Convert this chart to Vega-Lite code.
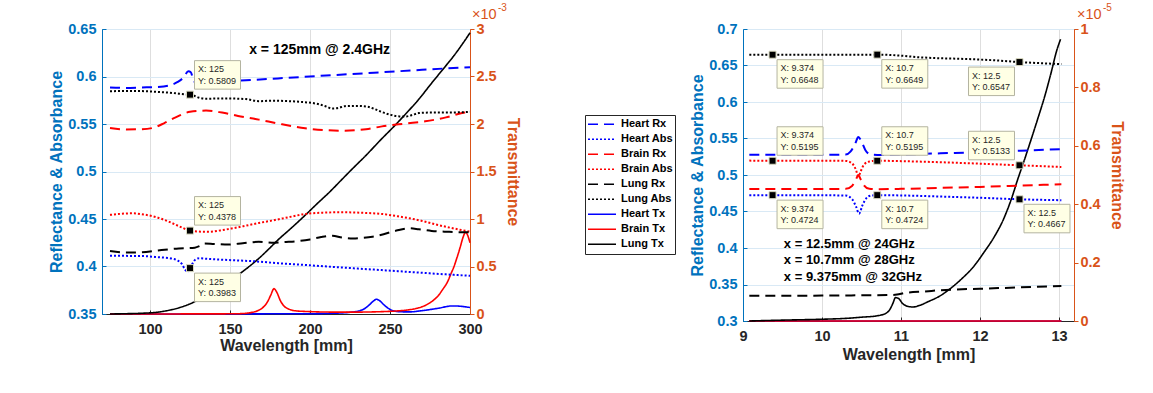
{
"$schema":"https://vega.github.io/schema/vega-lite/v6.json",
"autosize":{"type":"pad"},
"padding":{"left":48,"top":2,"right":2,"bottom":2},
"background":"white",
"datasets":{
"LR":[
{"s":"Heart Rx","x":75,"r":0.5885},{"s":"Heart Rx","x":85,"r":0.588},{"s":"Heart Rx","x":95,"r":0.5885},{"s":"Heart Rx","x":105,"r":0.589},{"s":"Heart Rx","x":112,"r":0.5905},{"s":"Heart Rx","x":117,"r":0.594},{"s":"Heart Rx","x":121,"r":0.599},{"s":"Heart Rx","x":124,"r":0.6055},{"s":"Heart Rx","x":125.5,"r":0.6045},{"s":"Heart Rx","x":127,"r":0.597},{"s":"Heart Rx","x":129,"r":0.5925},{"s":"Heart Rx","x":132,"r":0.5925},{"s":"Heart Rx","x":140,"r":0.5935},{"s":"Heart Rx","x":150,"r":0.595},{"s":"Heart Rx","x":165,"r":0.5965},{"s":"Heart Rx","x":180,"r":0.598},{"s":"Heart Rx","x":195,"r":0.5995},{"s":"Heart Rx","x":210,"r":0.601},{"s":"Heart Rx","x":225,"r":0.6025},{"s":"Heart Rx","x":240,"r":0.604},{"s":"Heart Rx","x":255,"r":0.6055},{"s":"Heart Rx","x":270,"r":0.607},{"s":"Heart Rx","x":285,"r":0.6085},{"s":"Heart Rx","x":300,"r":0.6098},
{"s":"Heart Abs","x":75,"r":0.4113},{"s":"Heart Abs","x":85,"r":0.4112},{"s":"Heart Abs","x":95,"r":0.411},{"s":"Heart Abs","x":105,"r":0.4098},{"s":"Heart Abs","x":113,"r":0.4085},{"s":"Heart Abs","x":117,"r":0.4065},{"s":"Heart Abs","x":120,"r":0.4025},{"s":"Heart Abs","x":122,"r":0.3965},{"s":"Heart Abs","x":123.5,"r":0.3945},{"s":"Heart Abs","x":125,"r":0.3983},{"s":"Heart Abs","x":126.5,"r":0.403},{"s":"Heart Abs","x":128.5,"r":0.4075},{"s":"Heart Abs","x":131,"r":0.4088},{"s":"Heart Abs","x":135,"r":0.4082},{"s":"Heart Abs","x":149,"r":0.4068},{"s":"Heart Abs","x":165,"r":0.4055},{"s":"Heart Abs","x":180,"r":0.4035},{"s":"Heart Abs","x":197,"r":0.4016},{"s":"Heart Abs","x":215,"r":0.3995},{"s":"Heart Abs","x":230,"r":0.3978},{"s":"Heart Abs","x":245,"r":0.3962},{"s":"Heart Abs","x":260,"r":0.3945},{"s":"Heart Abs","x":275,"r":0.3928},{"s":"Heart Abs","x":290,"r":0.3912},{"s":"Heart Abs","x":300,"r":0.3902},
{"s":"Brain Rx","x":75,"r":0.5457},{"s":"Brain Rx","x":85,"r":0.5443},{"s":"Brain Rx","x":95,"r":0.5445},{"s":"Brain Rx","x":102,"r":0.546},{"s":"Brain Rx","x":109,"r":0.551},{"s":"Brain Rx","x":116,"r":0.557},{"s":"Brain Rx","x":125,"r":0.5628},{"s":"Brain Rx","x":135,"r":0.5641},{"s":"Brain Rx","x":145,"r":0.562},{"s":"Brain Rx","x":155,"r":0.5585},{"s":"Brain Rx","x":168,"r":0.5546},{"s":"Brain Rx","x":180,"r":0.5505},{"s":"Brain Rx","x":197,"r":0.5455},{"s":"Brain Rx","x":210,"r":0.5435},{"s":"Brain Rx","x":220,"r":0.543},{"s":"Brain Rx","x":235,"r":0.5445},{"s":"Brain Rx","x":245,"r":0.5475},{"s":"Brain Rx","x":260,"r":0.5505},{"s":"Brain Rx","x":272,"r":0.5528},{"s":"Brain Rx","x":285,"r":0.557},{"s":"Brain Rx","x":295,"r":0.5615},{"s":"Brain Rx","x":300,"r":0.563},
{"s":"Brain Abs","x":75,"r":0.4543},{"s":"Brain Abs","x":82,"r":0.4555},{"s":"Brain Abs","x":89,"r":0.456},{"s":"Brain Abs","x":96,"r":0.4548},{"s":"Brain Abs","x":105,"r":0.4514},{"s":"Brain Abs","x":112,"r":0.447},{"s":"Brain Abs","x":118,"r":0.4425},{"s":"Brain Abs","x":125,"r":0.4378},{"s":"Brain Abs","x":130,"r":0.4368},{"s":"Brain Abs","x":137,"r":0.4366},{"s":"Brain Abs","x":144,"r":0.438},{"s":"Brain Abs","x":151,"r":0.44},{"s":"Brain Abs","x":160,"r":0.443},{"s":"Brain Abs","x":168,"r":0.4458},{"s":"Brain Abs","x":176,"r":0.4483},{"s":"Brain Abs","x":187,"r":0.452},{"s":"Brain Abs","x":197,"r":0.4553},{"s":"Brain Abs","x":208,"r":0.4567},{"s":"Brain Abs","x":220,"r":0.4571},{"s":"Brain Abs","x":232,"r":0.4566},{"s":"Brain Abs","x":245,"r":0.4553},{"s":"Brain Abs","x":255,"r":0.4528},{"s":"Brain Abs","x":262,"r":0.4508},{"s":"Brain Abs","x":270,"r":0.448},{"s":"Brain Abs","x":280,"r":0.4437},{"s":"Brain Abs","x":290,"r":0.44},{"s":"Brain Abs","x":300,"r":0.4366},
{"s":"Lung Rx","x":75,"r":0.4162},{"s":"Lung Rx","x":85,"r":0.4147},{"s":"Lung Rx","x":95,"r":0.415},{"s":"Lung Rx","x":105,"r":0.4169},{"s":"Lung Rx","x":118,"r":0.419},{"s":"Lung Rx","x":128,"r":0.4198},{"s":"Lung Rx","x":131,"r":0.4215},{"s":"Lung Rx","x":134,"r":0.4243},{"s":"Lung Rx","x":140,"r":0.4238},{"s":"Lung Rx","x":149,"r":0.4232},{"s":"Lung Rx","x":158,"r":0.4245},{"s":"Lung Rx","x":168,"r":0.426},{"s":"Lung Rx","x":176,"r":0.425},{"s":"Lung Rx","x":185,"r":0.4258},{"s":"Lung Rx","x":193,"r":0.4268},{"s":"Lung Rx","x":200,"r":0.4285},{"s":"Lung Rx","x":207,"r":0.431},{"s":"Lung Rx","x":214,"r":0.4324},{"s":"Lung Rx","x":220,"r":0.4305},{"s":"Lung Rx","x":227,"r":0.4296},{"s":"Lung Rx","x":233,"r":0.4302},{"s":"Lung Rx","x":239,"r":0.4314},{"s":"Lung Rx","x":246,"r":0.434},{"s":"Lung Rx","x":254,"r":0.4378},{"s":"Lung Rx","x":262,"r":0.4402},{"s":"Lung Rx","x":268,"r":0.4392},{"s":"Lung Rx","x":276,"r":0.4374},{"s":"Lung Rx","x":287,"r":0.4365},{"s":"Lung Rx","x":297,"r":0.436},{"s":"Lung Rx","x":300,"r":0.436},
{"s":"Lung Abs","x":75,"r":0.5845},{"s":"Lung Abs","x":90,"r":0.5848},{"s":"Lung Abs","x":105,"r":0.5838},{"s":"Lung Abs","x":115,"r":0.5825},{"s":"Lung Abs","x":122,"r":0.5812},{"s":"Lung Abs","x":125,"r":0.5809},{"s":"Lung Abs","x":128,"r":0.5795},{"s":"Lung Abs","x":131,"r":0.5775},{"s":"Lung Abs","x":135,"r":0.5766},{"s":"Lung Abs","x":142,"r":0.5768},{"s":"Lung Abs","x":150,"r":0.5768},{"s":"Lung Abs","x":160,"r":0.5762},{"s":"Lung Abs","x":168,"r":0.574},{"s":"Lung Abs","x":176,"r":0.5745},{"s":"Lung Abs","x":185,"r":0.5742},{"s":"Lung Abs","x":195,"r":0.5732},{"s":"Lung Abs","x":205,"r":0.571},{"s":"Lung Abs","x":210,"r":0.5685},{"s":"Lung Abs","x":214,"r":0.5662},{"s":"Lung Abs","x":218,"r":0.567},{"s":"Lung Abs","x":222,"r":0.5688},{"s":"Lung Abs","x":230,"r":0.569},{"s":"Lung Abs","x":236,"r":0.5682},{"s":"Lung Abs","x":240,"r":0.566},{"s":"Lung Abs","x":244,"r":0.5632},{"s":"Lung Abs","x":250,"r":0.5598},{"s":"Lung Abs","x":256,"r":0.558},{"s":"Lung Abs","x":260,"r":0.558},{"s":"Lung Abs","x":264,"r":0.5595},{"s":"Lung Abs","x":268,"r":0.5615},{"s":"Lung Abs","x":275,"r":0.562},{"s":"Lung Abs","x":285,"r":0.562},{"s":"Lung Abs","x":300,"r":0.5628}
],
"LT":[
{"s":"Heart Tx","x":75,"t":0},{"s":"Heart Tx","x":200,"t":3e-6},{"s":"Heart Tx","x":215,"t":8e-6},{"s":"Heart Tx","x":225,"t":1.8e-5},{"s":"Heart Tx","x":230,"t":3e-5},{"s":"Heart Tx","x":234,"t":5.5e-5},{"s":"Heart Tx","x":237,"t":9.5e-5},{"s":"Heart Tx","x":239.5,"t":1.35e-4},{"s":"Heart Tx","x":241.5,"t":1.55e-4},{"s":"Heart Tx","x":243.5,"t":1.4e-4},{"s":"Heart Tx","x":246,"t":1e-4},{"s":"Heart Tx","x":248.5,"t":6.5e-5},{"s":"Heart Tx","x":251,"t":4e-5},{"s":"Heart Tx","x":255,"t":2.5e-5},{"s":"Heart Tx","x":262,"t":2.2e-5},{"s":"Heart Tx","x":270,"t":3.5e-5},{"s":"Heart Tx","x":280,"t":6e-5},{"s":"Heart Tx","x":289,"t":8.5e-5},{"s":"Heart Tx","x":295,"t":8e-5},{"s":"Heart Tx","x":300,"t":6.8e-5},
{"s":"Brain Tx","x":75,"t":0},{"s":"Brain Tx","x":150,"t":2e-6},{"s":"Brain Tx","x":155,"t":3e-6},{"s":"Brain Tx","x":160,"t":8e-6},{"s":"Brain Tx","x":164,"t":1.8e-5},{"s":"Brain Tx","x":168,"t":4e-5},{"s":"Brain Tx","x":171,"t":7.5e-5},{"s":"Brain Tx","x":173.5,"t":1.3e-4},{"s":"Brain Tx","x":175.5,"t":2e-4},{"s":"Brain Tx","x":177.5,"t":2.67e-4},{"s":"Brain Tx","x":179.5,"t":2.2e-4},{"s":"Brain Tx","x":181.5,"t":1.4e-4},{"s":"Brain Tx","x":184,"t":8e-5},{"s":"Brain Tx","x":187,"t":5e-5},{"s":"Brain Tx","x":190,"t":3.5e-5},{"s":"Brain Tx","x":200,"t":2.5e-5},{"s":"Brain Tx","x":215,"t":2e-5},{"s":"Brain Tx","x":230,"t":2e-5},{"s":"Brain Tx","x":245,"t":2.5e-5},{"s":"Brain Tx","x":255,"t":3.3e-5},{"s":"Brain Tx","x":262,"t":4.5e-5},{"s":"Brain Tx","x":268,"t":6.5e-5},{"s":"Brain Tx","x":272,"t":9e-5},{"s":"Brain Tx","x":276,"t":1.3e-4},{"s":"Brain Tx","x":280,"t":1.9e-4},{"s":"Brain Tx","x":283,"t":2.6e-4},{"s":"Brain Tx","x":286,"t":3.4e-4},{"s":"Brain Tx","x":288,"t":4.2e-4},{"s":"Brain Tx","x":290,"t":5e-4},{"s":"Brain Tx","x":292,"t":6e-4},{"s":"Brain Tx","x":294,"t":7.1e-4},{"s":"Brain Tx","x":295.5,"t":8e-4},{"s":"Brain Tx","x":297.3,"t":8.6e-4},{"s":"Brain Tx","x":298.5,"t":8.3e-4},{"s":"Brain Tx","x":300,"t":7.5e-4},
{"s":"Lung Tx","x":75,"t":0},{"s":"Lung Tx","x":85,"t":3e-6},{"s":"Lung Tx","x":95,"t":8e-6},{"s":"Lung Tx","x":105,"t":2e-5},{"s":"Lung Tx","x":112,"t":4e-5},{"s":"Lung Tx","x":118,"t":6.5e-5},{"s":"Lung Tx","x":124,"t":1e-4},{"s":"Lung Tx","x":128,"t":1.3e-4},{"s":"Lung Tx","x":131,"t":1.6e-4},{"s":"Lung Tx","x":137,"t":2.1e-4},{"s":"Lung Tx","x":143,"t":2.7e-4},{"s":"Lung Tx","x":149,"t":3.35e-4},{"s":"Lung Tx","x":155,"t":4.1e-4},{"s":"Lung Tx","x":162,"t":5e-4},{"s":"Lung Tx","x":168,"t":5.85e-4},{"s":"Lung Tx","x":174,"t":6.8e-4},{"s":"Lung Tx","x":180,"t":7.8e-4},{"s":"Lung Tx","x":188,"t":9e-4},{"s":"Lung Tx","x":197,"t":1.04e-3},{"s":"Lung Tx","x":205,"t":1.17e-3},{"s":"Lung Tx","x":212,"t":1.28e-3},{"s":"Lung Tx","x":219,"t":1.4e-3},{"s":"Lung Tx","x":226,"t":1.52e-3},{"s":"Lung Tx","x":235,"t":1.67e-3},{"s":"Lung Tx","x":244,"t":1.83e-3},{"s":"Lung Tx","x":252.5,"t":1.975e-3},{"s":"Lung Tx","x":260,"t":2.11e-3},{"s":"Lung Tx","x":268,"t":2.26e-3},{"s":"Lung Tx","x":276,"t":2.43e-3},{"s":"Lung Tx","x":283,"t":2.574e-3},{"s":"Lung Tx","x":290,"t":2.72e-3},{"s":"Lung Tx","x":296,"t":2.86e-3},{"s":"Lung Tx","x":300,"t":2.96e-3}
],
"RR":[
{"s":"Heart Rx","x":9.08,"r":0.5277},{"s":"Heart Rx","x":9.5,"r":0.5277},{"s":"Heart Rx","x":10,"r":0.5277},{"s":"Heart Rx","x":10.3,"r":0.528},{"s":"Heart Rx","x":10.36,"r":0.532},{"s":"Heart Rx","x":10.42,"r":0.543},{"s":"Heart Rx","x":10.46,"r":0.552},{"s":"Heart Rx","x":10.5,"r":0.546},{"s":"Heart Rx","x":10.55,"r":0.534},{"s":"Heart Rx","x":10.62,"r":0.528},{"s":"Heart Rx","x":10.7,"r":0.5275},{"s":"Heart Rx","x":11,"r":0.528},{"s":"Heart Rx","x":11.5,"r":0.5297},{"s":"Heart Rx","x":12,"r":0.5313},{"s":"Heart Rx","x":12.5,"r":0.5333},{"s":"Heart Rx","x":13.03,"r":0.5355},
{"s":"Heart Abs","x":9.08,"r":0.4724},{"s":"Heart Abs","x":9.374,"r":0.4724},{"s":"Heart Abs","x":10,"r":0.4723},{"s":"Heart Abs","x":10.3,"r":0.4718},{"s":"Heart Abs","x":10.38,"r":0.467},{"s":"Heart Abs","x":10.43,"r":0.457},{"s":"Heart Abs","x":10.47,"r":0.447},{"s":"Heart Abs","x":10.51,"r":0.458},{"s":"Heart Abs","x":10.56,"r":0.468},{"s":"Heart Abs","x":10.62,"r":0.4718},{"s":"Heart Abs","x":10.7,"r":0.4724},{"s":"Heart Abs","x":11,"r":0.472},{"s":"Heart Abs","x":11.5,"r":0.4705},{"s":"Heart Abs","x":12,"r":0.4688},{"s":"Heart Abs","x":12.5,"r":0.4667},{"s":"Heart Abs","x":13.03,"r":0.4655},
{"s":"Brain Rx","x":9.08,"r":0.4807},{"s":"Brain Rx","x":10,"r":0.4807},{"s":"Brain Rx","x":10.3,"r":0.481},{"s":"Brain Rx","x":10.38,"r":0.485},{"s":"Brain Rx","x":10.43,"r":0.494},{"s":"Brain Rx","x":10.46,"r":0.5},{"s":"Brain Rx","x":10.49,"r":0.494},{"s":"Brain Rx","x":10.53,"r":0.486},{"s":"Brain Rx","x":10.6,"r":0.481},{"s":"Brain Rx","x":10.7,"r":0.4805},{"s":"Brain Rx","x":11,"r":0.481},{"s":"Brain Rx","x":11.5,"r":0.4823},{"s":"Brain Rx","x":12,"r":0.4837},{"s":"Brain Rx","x":12.5,"r":0.4855},{"s":"Brain Rx","x":13.03,"r":0.4873},
{"s":"Brain Abs","x":9.08,"r":0.5197},{"s":"Brain Abs","x":9.374,"r":0.5195},{"s":"Brain Abs","x":10,"r":0.5196},{"s":"Brain Abs","x":10.3,"r":0.5193},{"s":"Brain Abs","x":10.38,"r":0.516},{"s":"Brain Abs","x":10.43,"r":0.507},{"s":"Brain Abs","x":10.46,"r":0.498},{"s":"Brain Abs","x":10.49,"r":0.505},{"s":"Brain Abs","x":10.53,"r":0.514},{"s":"Brain Abs","x":10.6,"r":0.5185},{"s":"Brain Abs","x":10.7,"r":0.5195},{"s":"Brain Abs","x":11,"r":0.519},{"s":"Brain Abs","x":11.5,"r":0.5175},{"s":"Brain Abs","x":12,"r":0.5155},{"s":"Brain Abs","x":12.5,"r":0.5133},{"s":"Brain Abs","x":13.03,"r":0.511},
{"s":"Lung Rx","x":9.08,"r":0.3346},{"s":"Lung Rx","x":10,"r":0.3348},{"s":"Lung Rx","x":10.5,"r":0.3352},{"s":"Lung Rx","x":10.85,"r":0.3355},{"s":"Lung Rx","x":10.95,"r":0.3362},{"s":"Lung Rx","x":11.05,"r":0.3385},{"s":"Lung Rx","x":11.1,"r":0.339},{"s":"Lung Rx","x":11.3,"r":0.3405},{"s":"Lung Rx","x":11.5,"r":0.3422},{"s":"Lung Rx","x":12,"r":0.3442},{"s":"Lung Rx","x":12.5,"r":0.346},{"s":"Lung Rx","x":13.03,"r":0.3478},
{"s":"Lung Abs","x":9.08,"r":0.6648},{"s":"Lung Abs","x":9.374,"r":0.6648},{"s":"Lung Abs","x":10,"r":0.6648},{"s":"Lung Abs","x":10.4,"r":0.6648},{"s":"Lung Abs","x":10.7,"r":0.6649},{"s":"Lung Abs","x":10.85,"r":0.6645},{"s":"Lung Abs","x":11,"r":0.6635},{"s":"Lung Abs","x":11.2,"r":0.6615},{"s":"Lung Abs","x":11.4,"r":0.6603},{"s":"Lung Abs","x":11.8,"r":0.659},{"s":"Lung Abs","x":12.2,"r":0.657},{"s":"Lung Abs","x":12.5,"r":0.6547},{"s":"Lung Abs","x":12.8,"r":0.653},{"s":"Lung Abs","x":13.03,"r":0.652}
],
"RT":[
{"s":"Heart Tx","x":9.08,"t":0},{"s":"Heart Tx","x":13.03,"t":0},
{"s":"Brain Tx","x":9.08,"t":0},{"s":"Brain Tx","x":13.03,"t":0},
{"s":"Lung Tx","x":9.08,"t":0},{"s":"Lung Tx","x":9.5,"t":3e-8},{"s":"Lung Tx","x":10,"t":6e-8},{"s":"Lung Tx","x":10.3,"t":9e-8},{"s":"Lung Tx","x":10.5,"t":1.3e-7},{"s":"Lung Tx","x":10.7,"t":1.8e-7},{"s":"Lung Tx","x":10.8,"t":2.5e-7},{"s":"Lung Tx","x":10.86,"t":4e-7},{"s":"Lung Tx","x":10.9,"t":6.2e-7},{"s":"Lung Tx","x":10.93,"t":8e-7},{"s":"Lung Tx","x":10.97,"t":7.7e-7},{"s":"Lung Tx","x":11.02,"t":6e-7},{"s":"Lung Tx","x":11.09,"t":5e-7},{"s":"Lung Tx","x":11.15,"t":4.8e-7},{"s":"Lung Tx","x":11.22,"t":5.2e-7},{"s":"Lung Tx","x":11.35,"t":6.7e-7},{"s":"Lung Tx","x":11.5,"t":8.7e-7},{"s":"Lung Tx","x":11.6,"t":1.06e-6},{"s":"Lung Tx","x":11.75,"t":1.4e-6},{"s":"Lung Tx","x":11.93,"t":1.9e-6},{"s":"Lung Tx","x":12.05,"t":2.35e-6},{"s":"Lung Tx","x":12.18,"t":2.88e-6},{"s":"Lung Tx","x":12.3,"t":3.5e-6},{"s":"Lung Tx","x":12.4,"t":4.2e-6},{"s":"Lung Tx","x":12.48,"t":4.87e-6},{"s":"Lung Tx","x":12.56,"t":5.5e-6},{"s":"Lung Tx","x":12.65,"t":6.24e-6},{"s":"Lung Tx","x":12.74,"t":7e-6},{"s":"Lung Tx","x":12.82,"t":7.7e-6},{"s":"Lung Tx","x":12.9,"t":8.5e-6},{"s":"Lung Tx","x":12.97,"t":9.25e-6},{"s":"Lung Tx","x":13.02,"t":9.65e-6}
],
"tipsL":[{"x":125,"r":0.5809,"pos":"ur"},{"x":125,"r":0.4378,"pos":"ur"},{"x":125,"r":0.3983,"pos":"lr"}],
"tipsR":[{"x":9.374,"r":0.6648,"pos":"lr"},{"x":10.7,"r":0.6649,"pos":"lr"},{"x":12.5,"r":0.6547,"pos":"ll"},{"x":9.374,"r":0.5195,"pos":"ur"},{"x":10.7,"r":0.5195,"pos":"ur"},{"x":12.5,"r":0.5133,"pos":"ul"},{"x":9.374,"r":0.4724,"pos":"lr"},{"x":10.7,"r":0.4724,"pos":"lr"},{"x":12.5,"r":0.4667,"pos":"lr"}]
},
"hconcat":[
{
"width":368,"height":285,
"layer":[
{"layer":[
{"data":{"name":"LT"},"mark":{"type":"line","strokeWidth":1.6,"interpolate":"monotone"},
"encoding":{
"x":{"field":"x","type":"quantitative","title":"Wavelength [mm]","scale":{"domain":[70,300]},"axis":{"values":[100,150,200,250,300],"format":"d","grid":true,"tickSize":-4,"labelPadding":12,"titlePadding":1.5}},
"y":{"field":"t","type":"quantitative","title":"Transmittance","scale":{"domain":[0,0.003]},"axis":{"orient":"right","values":[0,0.0005,0.001,0.0015,0.002,0.0025,0.003],"labelExpr":"format(datum.value*1000,'.1~f')","labelOverlap":false,"titleColor":"#D95319","labelColor":"#D95319","domainColor":"#D95319","tickColor":"#D95319","grid":false,"tickSize":4,"labelPadding":2,"titlePadding":8}},
"color":{"field":"s","type":"nominal","title":null,"scale":{"domain":["Heart Rx","Heart Abs","Brain Rx","Brain Abs","Lung Rx","Lung Abs","Heart Tx","Brain Tx","Lung Tx"],"range":["#0000ff","#0000ff","#ff0000","#ff0000","#000000","#000000","#0000ff","#ff0000","#000000"]}},
"strokeDash":{"field":"s","type":"nominal","title":null,"scale":{"domain":["Heart Rx","Heart Abs","Brain Rx","Brain Abs","Lung Rx","Lung Abs","Heart Tx","Brain Tx","Lung Tx"],"range":[[10,6],[2,2],[10,6],[2,2],[10,6],[2,2],[1,0],[1,0],[1,0]]}}}},
{"data":{"values":[{}]},"mark":{"type":"text","align":"left","baseline":"middle","dx":2,"dy":-14,"fontSize":14.5,"color":"#D95319"},"encoding":{"x":{"datum":300,"type":"quantitative","scale":{"domain":[70,300]}},"y":{"datum":0.003,"type":"quantitative","scale":{"domain":[0,0.003]}},"text":{"value":"×10"}}},
{"data":{"values":[{}]},"mark":{"type":"text","align":"left","baseline":"middle","dx":28,"dy":-21,"fontSize":10,"color":"#D95319"},"encoding":{"x":{"datum":300,"type":"quantitative","scale":{"domain":[70,300]}},"y":{"datum":0.003,"type":"quantitative","scale":{"domain":[0,0.003]}},"text":{"value":"-3"}}}
]},
{"layer":[
{"data":{"name":"LR"},"mark":{"type":"line","strokeWidth":2,"interpolate":"monotone"},
"encoding":{
"x":{"field":"x","type":"quantitative","title":"Wavelength [mm]","scale":{"domain":[70,300]},"axis":{"values":[100,150,200,250,300],"format":"d","grid":true,"tickSize":-4,"labelPadding":12,"titlePadding":1.5}},
"y":{"field":"r","type":"quantitative","title":"Reflectance & Absorbance","scale":{"domain":[0.35,0.65]},"axis":{"orient":"left","values":[0.35,0.4,0.45,0.5,0.55,0.6,0.65],"tickCount":7,"labelExpr":"format(datum.value,'.2~f')","labelOverlap":false,"titleColor":"#0072BD","labelColor":"#0072BD","domainColor":"#0072BD","tickColor":"#0072BD","grid":true,"gridColor":"#d9e9f5","tickSize":-4,"labelPadding":10,"titlePadding":3}},
"color":{"field":"s","type":"nominal","title":null,"scale":{"domain":["Heart Rx","Heart Abs","Brain Rx","Brain Abs","Lung Rx","Lung Abs","Heart Tx","Brain Tx","Lung Tx"],"range":["#0000ff","#0000ff","#ff0000","#ff0000","#000000","#000000","#0000ff","#ff0000","#000000"]}},
"strokeDash":{"field":"s","type":"nominal","title":null,"scale":{"domain":["Heart Rx","Heart Abs","Brain Rx","Brain Abs","Lung Rx","Lung Abs","Heart Tx","Brain Tx","Lung Tx"],"range":[[10,6],[2,2],[10,6],[2,2],[10,6],[2,2],[1,0],[1,0],[1,0]]}}}},
{"data":{"values":[{}]},"mark":{"type":"text","align":"center","baseline":"middle","fontSize":14,"fontWeight":"bold","color":"#000000"},"encoding":{"x":{"datum":206,"type":"quantitative","scale":{"domain":[70,300]}},"y":{"datum":0.6278,"type":"quantitative","scale":{"domain":[0.35,0.65]},"axis":{"orient":"left","values":[0.35,0.4,0.45,0.5,0.55,0.6,0.65],"tickCount":7,"labelExpr":"format(datum.value,'.2~f')","labelOverlap":false,"titleColor":"#0072BD","labelColor":"#0072BD","domainColor":"#0072BD","tickColor":"#0072BD","grid":true,"gridColor":"#d9e9f5","tickSize":-4,"labelPadding":10,"titlePadding":3}},"text":{"value":"x = 125mm @ 2.4GHz"}}},
{"data":{"name":"tipsL"},"transform":[{"calculate":"['X: ' + datum.x, 'Y: ' + datum.r]","as":"lbl"}],
"encoding":{"x":{"field":"x","type":"quantitative","title":"Wavelength [mm]","scale":{"domain":[70,300]}},"y":{"field":"r","type":"quantitative","title":"Reflectance & Absorbance","scale":{"domain":[0.35,0.65]},"axis":{"orient":"left","values":[0.35,0.4,0.45,0.5,0.55,0.6,0.65],"tickCount":7,"labelExpr":"format(datum.value,'.2~f')","labelOverlap":false,"titleColor":"#0072BD","labelColor":"#0072BD","domainColor":"#0072BD","tickColor":"#0072BD","grid":true,"gridColor":"#d9e9f5","tickSize":-4,"labelPadding":10,"titlePadding":3}}},
"layer":[
{"transform":[{"filter":"datum.pos=='ur'"}],"mark":{"type":"point","shape":"M-1,-0.62H1V0.62H-1Z","size":2116,"filled":true,"fill":"#ffffe5","stroke":"#b4b4a0","strokeWidth":1,"opacity":1,"xOffset":27.5,"yOffset":-19.75}},
{"transform":[{"filter":"datum.pos=='ur'"}],"mark":{"type":"text","align":"left","baseline":"middle","dx":8,"dy":-25.45,"fontSize":9,"lineHeight":11.4,"color":"#262626"},"encoding":{"text":{"field":"lbl"}}},
{"transform":[{"filter":"datum.pos=='lr'"}],"mark":{"type":"point","shape":"M-1,-0.62H1V0.62H-1Z","size":2116,"filled":true,"fill":"#ffffe5","stroke":"#b4b4a0","strokeWidth":1,"opacity":1,"xOffset":27.5,"yOffset":19.25}},
{"transform":[{"filter":"datum.pos=='lr'"}],"mark":{"type":"text","align":"left","baseline":"middle","dx":8,"dy":13.55,"fontSize":9,"lineHeight":11.4,"color":"#262626"},"encoding":{"text":{"field":"lbl"}}},
{"mark":{"type":"point","shape":"square","size":49,"filled":true,"fill":"#000000","stroke":"#d9d9c0","strokeWidth":1,"opacity":1}}
]}
]}
],
"resolve":{"scale":{"y":"independent"}}
},
{
"width":331,"height":292,
"layer":[
{"layer":[
{"data":{"name":"RT"},"mark":{"type":"line","strokeWidth":1.6,"interpolate":"monotone"},
"encoding":{
"x":{"field":"x","type":"quantitative","title":"Wavelength [mm]","scale":{"domain":[9,13.19]},"axis":{"values":[9,10,11,12,13],"format":"d","grid":true,"tickSize":-4,"labelPadding":12,"titlePadding":4}},
"y":{"field":"t","type":"quantitative","title":"Transmittance","scale":{"domain":[0,0.00001]},"axis":{"orient":"right","values":[0,0.000002,0.000004,0.000006,0.000008,0.00001],"labelExpr":"format(datum.value*100000,'.1~f')","labelOverlap":false,"titleColor":"#D95319","labelColor":"#D95319","domainColor":"#D95319","tickColor":"#D95319","grid":false,"tickSize":4,"labelPadding":2,"titlePadding":8}},
"color":{"field":"s","type":"nominal","title":null,"scale":{"domain":["Heart Rx","Heart Abs","Brain Rx","Brain Abs","Lung Rx","Lung Abs","Heart Tx","Brain Tx","Lung Tx"],"range":["#0000ff","#0000ff","#ff0000","#ff0000","#000000","#000000","#0000ff","#ff0000","#000000"]}},
"strokeDash":{"field":"s","type":"nominal","title":null,"scale":{"domain":["Heart Rx","Heart Abs","Brain Rx","Brain Abs","Lung Rx","Lung Abs","Heart Tx","Brain Tx","Lung Tx"],"range":[[10,6],[2,2],[10,6],[2,2],[10,6],[2,2],[1,0],[1,0],[1,0]]}}}},
{"data":{"values":[{}]},"mark":{"type":"text","align":"left","baseline":"middle","dx":3,"dy":-14,"fontSize":14.5,"color":"#D95319"},"encoding":{"x":{"datum":13.19,"type":"quantitative","scale":{"domain":[9,13.19]}},"y":{"datum":0.00001,"type":"quantitative","scale":{"domain":[0,0.00001]}},"text":{"value":"×10"}}},
{"data":{"values":[{}]},"mark":{"type":"text","align":"left","baseline":"middle","dx":29,"dy":-21,"fontSize":10,"color":"#D95319"},"encoding":{"x":{"datum":13.19,"type":"quantitative","scale":{"domain":[9,13.19]}},"y":{"datum":0.00001,"type":"quantitative","scale":{"domain":[0,0.00001]}},"text":{"value":"-5"}}}
]},
{"layer":[
{"data":{"name":"RR"},"mark":{"type":"line","strokeWidth":2,"interpolate":"monotone"},
"encoding":{
"x":{"field":"x","type":"quantitative","title":"Wavelength [mm]","scale":{"domain":[9,13.19]},"axis":{"values":[9,10,11,12,13],"format":"d","grid":true,"tickSize":-4,"labelPadding":12,"titlePadding":4}},
"y":{"field":"r","type":"quantitative","title":"Reflectance & Absorbance","scale":{"domain":[0.3,0.7]},"axis":{"orient":"left","values":[0.3,0.35,0.4,0.45,0.5,0.55,0.6,0.65,0.7],"tickCount":9,"labelExpr":"format(datum.value,'.2~f')","labelOverlap":false,"labelSeparation":0,"titleColor":"#0072BD","labelColor":"#0072BD","domainColor":"#0072BD","tickColor":"#0072BD","grid":true,"gridColor":"#d9e9f5","tickSize":-4,"labelPadding":10,"titlePadding":3}},
"color":{"field":"s","type":"nominal","title":null,"scale":{"domain":["Heart Rx","Heart Abs","Brain Rx","Brain Abs","Lung Rx","Lung Abs","Heart Tx","Brain Tx","Lung Tx"],"range":["#0000ff","#0000ff","#ff0000","#ff0000","#000000","#000000","#0000ff","#ff0000","#000000"]}},
"strokeDash":{"field":"s","type":"nominal","title":null,"scale":{"domain":["Heart Rx","Heart Abs","Brain Rx","Brain Abs","Lung Rx","Lung Abs","Heart Tx","Brain Tx","Lung Tx"],"range":[[10,6],[2,2],[10,6],[2,2],[10,6],[2,2],[1,0],[1,0],[1,0]]}}}},
{"data":{"values":[{}]},"mark":{"type":"text","align":"left","baseline":"middle","fontSize":13,"fontWeight":"bold","lineHeight":16.8,"color":"#000000"},"encoding":{"x":{"datum":9.517,"type":"quantitative","scale":{"domain":[9,13.19]}},"y":{"datum":0.4061,"type":"quantitative","scale":{"domain":[0.3,0.7]},"axis":{"orient":"left","values":[0.3,0.35,0.4,0.45,0.5,0.55,0.6,0.65,0.7],"tickCount":9,"labelExpr":"format(datum.value,'.2~f')","labelOverlap":false,"labelSeparation":0,"titleColor":"#0072BD","labelColor":"#0072BD","domainColor":"#0072BD","tickColor":"#0072BD","grid":true,"gridColor":"#d9e9f5","tickSize":-4,"labelPadding":10,"titlePadding":3}},"text":{"value":["x = 12.5mm @ 24GHz","x = 10.7mm @ 28GHz","x = 9.375mm @ 32GHz"]}}},
{"data":{"name":"tipsR"},"transform":[{"calculate":"['X: ' + datum.x, 'Y: ' + datum.r]","as":"lbl"}],
"encoding":{"x":{"field":"x","type":"quantitative","title":"Wavelength [mm]","scale":{"domain":[9,13.19]}},"y":{"field":"r","type":"quantitative","title":"Reflectance & Absorbance","scale":{"domain":[0.3,0.7]},"axis":{"orient":"left","values":[0.3,0.35,0.4,0.45,0.5,0.55,0.6,0.65,0.7],"tickCount":9,"labelExpr":"format(datum.value,'.2~f')","labelOverlap":false,"labelSeparation":0,"titleColor":"#0072BD","labelColor":"#0072BD","domainColor":"#0072BD","tickColor":"#0072BD","grid":true,"gridColor":"#d9e9f5","tickSize":-4,"labelPadding":10,"titlePadding":3}}},
"layer":[
{"transform":[{"filter":"datum.pos=='ur'"}],"mark":{"type":"point","shape":"M-1,-0.62H1V0.62H-1Z","size":2116,"filled":true,"fill":"#ffffe5","stroke":"#b4b4a0","strokeWidth":1,"opacity":1,"xOffset":27.5,"yOffset":-19.75}},
{"transform":[{"filter":"datum.pos=='ur'"}],"mark":{"type":"text","align":"left","baseline":"middle","dx":8,"dy":-25.45,"fontSize":9,"lineHeight":11.4,"color":"#262626"},"encoding":{"text":{"field":"lbl"}}},
{"transform":[{"filter":"datum.pos=='lr'"}],"mark":{"type":"point","shape":"M-1,-0.62H1V0.62H-1Z","size":2116,"filled":true,"fill":"#ffffe5","stroke":"#b4b4a0","strokeWidth":1,"opacity":1,"xOffset":27.5,"yOffset":19.25}},
{"transform":[{"filter":"datum.pos=='lr'"}],"mark":{"type":"text","align":"left","baseline":"middle","dx":8,"dy":13.55,"fontSize":9,"lineHeight":11.4,"color":"#262626"},"encoding":{"text":{"field":"lbl"}}},
{"transform":[{"filter":"datum.pos=='ul'"}],"mark":{"type":"point","shape":"M-1,-0.62H1V0.62H-1Z","size":2116,"filled":true,"fill":"#ffffe5","stroke":"#b4b4a0","strokeWidth":1,"opacity":1,"xOffset":-28,"yOffset":-19.75}},
{"transform":[{"filter":"datum.pos=='ul'"}],"mark":{"type":"text","align":"left","baseline":"middle","dx":-47.5,"dy":-25.45,"fontSize":9,"lineHeight":11.4,"color":"#262626"},"encoding":{"text":{"field":"lbl"}}},
{"transform":[{"filter":"datum.pos=='ll'"}],"mark":{"type":"point","shape":"M-1,-0.62H1V0.62H-1Z","size":2116,"filled":true,"fill":"#ffffe5","stroke":"#b4b4a0","strokeWidth":1,"opacity":1,"xOffset":-28,"yOffset":19.25}},
{"transform":[{"filter":"datum.pos=='ll'"}],"mark":{"type":"text","align":"left","baseline":"middle","dx":-47.5,"dy":13.55,"fontSize":9,"lineHeight":11.4,"color":"#262626"},"encoding":{"text":{"field":"lbl"}}},
{"mark":{"type":"point","shape":"square","size":49,"filled":true,"fill":"#000000","stroke":"#d9d9c0","strokeWidth":1,"opacity":1}}
]}
]}
],
"resolve":{"scale":{"y":"independent"}}
}
],
"spacing":273,
"bounds":"flush",
"config":{
"font":"Liberation Sans",
"view":{"stroke":"#262626","strokeWidth":1},
"axis":{"labelFont":"Liberation Sans","titleFont":"Liberation Sans","labelFontSize":14.5,"labelFontWeight":"bold","titleFontSize":16,"titleFontWeight":"bold","labelColor":"#262626","titleColor":"#262626","domainColor":"#262626","tickColor":"#262626","labelFlush":false,"labelOverlap":false,"gridColor":"#dedede","gridOpacity":1,"domainWidth":1,"tickWidth":1},
"text":{"font":"Liberation Sans"},
"legend":{"orient":"none","legendX":483,"legendY":86,"padding":2,"rowPadding":0,"clipHeight":14.6,"symbolType":"stroke","symbolSize":784,"symbolStrokeWidth":1.5,"labelFont":"Liberation Sans","labelFontSize":11,"labelFontWeight":"bold","labelColor":"#000000","labelOffset":4,"strokeColor":"#262626","fillColor":"#ffffff","labelLimit":0}
}
}
